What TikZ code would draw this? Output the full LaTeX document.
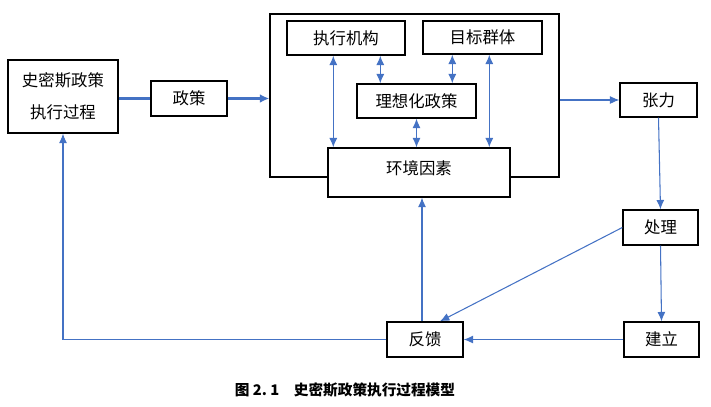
\documentclass[tikz,border=0pt]{standalone}
\usepackage{fontspec}
\setmainfont{Noto Sans CJK SC}
\usetikzlibrary{arrows.meta,calc}
\definecolor{linkblue}{RGB}{68,114,196}
\def\bw{1.2pt}

\begin{document}
\begin{tikzpicture}[x=0.03cm, y=-0.03cm, font=\fontsize{14}{17}\selectfont,
	box/.style={rectangle,draw,fill=white,line width=\bw,inner sep=0},
	link/.style={draw=linkblue,line width=0.9pt},
	fwd/.style={link,-{Latex[length=2.8mm,width=2.4mm]}},
	both/.style={link,{Latex[length=2.8mm,width=2.4mm]}-{Latex[length=2.8mm,width=2.4mm]}},
	heavy/.style={draw=linkblue,line width=2.2pt}]
		\useasboundingbox (0,0) rectangle (711,406);
		
		\node (shimisi) at (63,96.5) [box,minimum width=110*0.03cm,minimum height=73*0.03cm,align=center,font=\fontsize{14}{27}\selectfont]  {史密斯政策\\执行过程};
		\node (zhengce) at (189,98.5) [box,minimum width=76*0.03cm,minimum height=35*0.03cm]  {政策};
		
		\node (sys) at (414.5,95.5) [box,fill=none,minimum width=289*0.03cm,minimum height=163*0.03cm]  {};
		\node (zhixing) at (346,38) [box,minimum width=118*0.03cm,minimum height=34*0.03cm]  {执行机构};
		\node (mubiao) at (482.5,37.5) [box,minimum width=119*0.03cm,minimum height=33*0.03cm]  {目标群体};
		\node (lixiang) at (416.5,101) [box,minimum width=119*0.03cm,minimum height=34*0.03cm]  {理想化政策};
		\node (huanjing) at (419,172.5) [box,minimum width=182*0.03cm,minimum height=49*0.03cm,text depth=8pt]  {环境因素};
		
		\node (zhangli) at (658.5,100) [box,minimum width=77*0.03cm,minimum height=34*0.03cm]  {张力};
		\node (chuli) at (660.5,227.5) [box,minimum width=75*0.03cm,minimum height=35*0.03cm]  {处理};
		\node (jianli) at (661.5,339.5) [box,minimum width=75*0.03cm,minimum height=35*0.03cm]  {建立};
		\node (fankui) at (425,339.5) [box,minimum width=76*0.03cm,minimum height=35*0.03cm]  {反馈};
		
		\node (caption) at (345,390) [font=\fontsize{12.5}{15}\selectfont\bfseries]  {图 2.\ 1\quad 史密斯政策执行过程模型};
		
		% policy input
		\draw[heavy] (zhengce.west -| shimisi.east) to (zhengce.west);
		\draw[heavy,-{Latex[length=2.8mm,width=2.6mm]}] (zhengce.east) to (zhengce.east -| sys.west);
		
		% links inside the system
		\coordinate (a1) at ($(zhixing.south west)+(47,0)$);
		\coordinate (a2) at ($(zhixing.south west)+(94,0)$);
		\coordinate (a3) at ($(mubiao.south west)+(30,0)$);
		\coordinate (a4) at ($(mubiao.south west)+(67,0)$);
		\draw[both] (a1) to (a1 |- huanjing.north);
		\draw[both] (a2) to (a2 |- lixiang.north);
		\draw[both] (a3) to (a3 |- lixiang.north);
		\draw[both] (a4) to (a4 |- huanjing.north);
		\draw[both] (lixiang.south) to (lixiang.south |- huanjing.north);
		
		% tension and its handling
		\draw[fwd] (zhangli.west -| sys.east) to (zhangli.west);
		\draw[fwd] (zhangli.south) to (chuli.north);
		\draw[fwd] (chuli.south) to (jianli.north);
		\draw[fwd] (jianli.west) to (fankui.east);
		\coordinate (b1) at ($(fankui.north)+(15,0)$);
		\coordinate (b2) at ($(fankui.north)+(-3,0)$);
		\draw[fwd] (chuli.west) to (b1);
		\draw[fwd] (b2) to (b2 |- huanjing.south);
		
		% feedback loop
		\draw[fwd] (fankui.west) -| (shimisi.south);
		
	\end{tikzpicture}
\end{document}
